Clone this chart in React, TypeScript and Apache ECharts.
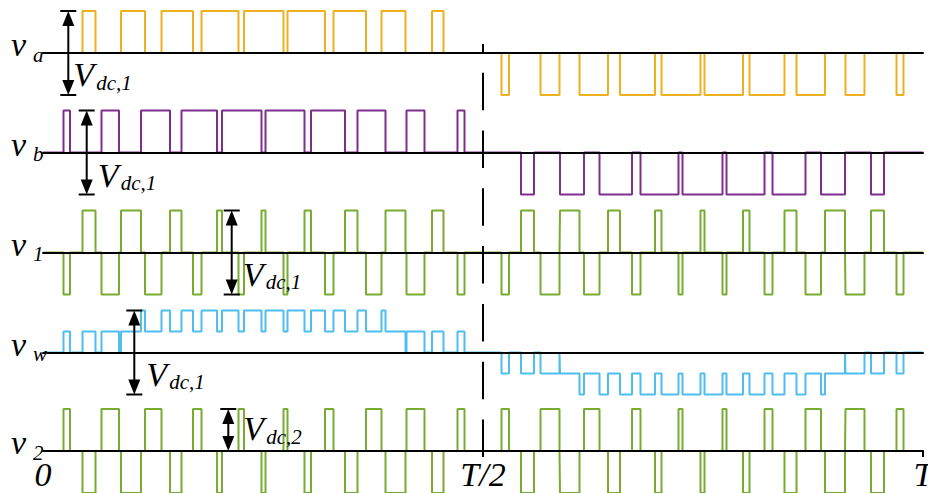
import React, { useEffect, useRef } from "react";
import * as echarts from "echarts";

// ---------- data (time unit: T = 880) ----------
const PERIOD = 880;
const tickValues = [0, 440, 880];
const tickLabels = ["0", "T/2", "T"];

const rowSubscripts = ["a", "b", "1", "w", "2"];
const rowColors = ["#EDB120", "#7E2F8E", "#77AC30", "#4DBEEE", "#77AC30"];

// pulses: [start, end, level]
const vaPulses = [
  [39.5, 52.5, 1], [78, 102, 1], [118.5, 150, 1], [158.5, 195.5, 1], [201, 240.5, 1],
  [244.5, 282, 1], [290.5, 323, 1], [338.5, 362.5, 1], [389, 400.5, 1],
  [458.5, 466, -1], [497.5, 516.5, -1], [536.5, 565, -1], [577, 612, -1], [618.5, 657.5, -1],
  [661.5, 700, -1], [706.5, 741.5, -1], [753.5, 782, -1], [802.5, 821.5, -1], [853.5, 860.5, -1],
];

const vbPulses = [
  [20.5, 27, 1], [58.5, 76, 1], [98, 127, 1], [138.5, 174, 1], [179, 218.5, 1],
  [222.5, 261.5, 1], [268, 302, 1], [314.5, 342.5, 1], [363.5, 381.5, 1], [414.5, 421.5, 1],
  [478, 491, -1], [517, 541, -1], [556.5, 589, -1], [597.5, 635.5, -1], [639.5, 679.5, -1],
  [683.5, 721.5, -1], [729.5, 762.5, -1], [778, 802, -1], [828, 841, -1],
];

const v1Pulses = [
  [20.5, 27, -1], [39.5, 52.5, 1], [58.5, 76, -1], [78, 98, 1], [102, 118.5, -1],
  [127, 138.5, 1], [150, 158.5, -1], [174, 179, 1], [195.5, 201, -1], [218.5, 222.5, 1],
  [240.5, 244.5, -1], [261.5, 268, 1], [282, 290.5, -1], [302, 314.5, 1], [323, 338.5, -1],
  [342.5, 362.5, 1], [363.5, 381.5, -1], [389, 400.5, 1], [414.5, 421.5, -1],
  [458.5, 466, -1], [478, 491, 1], [497.5, 516.5, -1], [517, 536.5, 1], [541, 556.5, -1],
  [565, 577, 1], [589, 597.5, -1], [612, 618.5, 1], [635.5, 639.5, -1], [657.5, 661.5, 1],
  [679.5, 683.5, -1], [700, 706.5, 1], [721.5, 729.5, -1], [741.5, 753.5, 1], [762.5, 778, -1],
  [782, 802, 1], [802.5, 821.5, -1], [828, 841, 1], [853.5, 860.5, -1],
];

// edges: [time, new level]
const vwEdges = [
  [20.5, 0.5], [27, 0], [39.5, 0.5], [52.5, 0], [58.5, 0.5], [76, 0], [78, 0.5], [98, 1],
  [102, 0.5], [118.5, 1], [127, 0.5], [138.5, 1], [150, 0.5], [158.5, 1], [174, 0.5], [179, 1],
  [195.5, 0.5], [201, 1], [218.5, 0.5], [222.5, 1], [240.5, 0.5], [244.5, 1], [261.5, 0.5],
  [268, 1], [282, 0.5], [290.5, 1], [302, 0.5], [314.5, 1], [323, 0.5], [338.5, 1],
  [342.5, 0.5], [362.5, 0], [363.5, 0.5], [381.5, 0], [389, 0.5], [400.5, 0], [414.5, 0.5],
  [421.5, 0],
  [458.5, -0.5], [466, 0], [478, -0.5], [491, 0], [497.5, -0.5], [516.5, 0], [517, -0.5],
  [536.5, -1], [541, -0.5], [556.5, -1], [565, -0.5], [577, -1], [589, -0.5], [597.5, -1],
  [612, -0.5], [618.5, -1], [635.5, -0.5], [639.5, -1], [657.5, -0.5], [661.5, -1],
  [679.5, -0.5], [683.5, -1], [700, -0.5], [706.5, -1], [721.5, -0.5], [729.5, -1],
  [741.5, -0.5], [753.5, -1], [762.5, -0.5], [778, -1], [782, -0.5], [802, 0], [802.5, -0.5],
  [821.5, 0], [828, -0.5], [841, 0], [853.5, -0.5], [860.5, 0],
];

const v2Pulses = [
  [20.5, 27, 1], [39.5, 52.5, -1], [58.5, 76, 1], [78, 98, -1], [102, 118.5, 1],
  [127, 138.5, -1], [150, 158.5, 1], [174, 179, -1], [195.5, 201, 1], [218.5, 222.5, -1],
  [240.5, 244.5, 1], [261.5, 268, -1], [282, 290.5, 1], [302, 314.5, -1], [323, 338.5, 1],
  [342.5, 362.5, -1], [363.5, 381.5, 1], [389, 400.5, -1], [414.5, 421.5, 1],
  [458.5, 466, 1], [478, 491, -1], [497.5, 516.5, 1], [517, 536.5, -1], [541, 556.5, 1],
  [565, 577, -1], [589, 597.5, 1], [612, 618.5, -1], [635.5, 639.5, 1], [657.5, 661.5, -1],
  [679.5, 683.5, 1], [700, 706.5, -1], [721.5, 729.5, 1], [741.5, 753.5, -1], [762.5, 778, 1],
  [782, 802, -1], [802.5, 821.5, 1], [828, 841, -1], [853.5, 860.5, 1],
];

// Vdc annotations: time position of the arrow, span in levels, subscript text
const vdcArrowTimes = [25.3, 43.7, 188.7, 91.3, 185.3];
const vdcArrowSpans = [[1, -1], [1, -1], [1, -1], [1, -1], [1, 0]];
const vdcSubscripts = ["dc,1", "dc,1", "dc,1", "dc,1", "dc,2"];

// ---------- layout ----------
const W = 928;
const H = 493;
const GRID_LEFT = 43;
const GRID_WIDTH = 880;
const ROW_BASES = [53, 152.5, 252.5, 352.5, 451];
const ROW_YMIN = [-1, -1, -1, -1, 0];
const AMP = 42;
const LABEL_OFFSETS = [[7, 33], [13, 34], [13, 33], [14, 33], [17, -11]];
const FONT = "'Liberation Serif', 'Times New Roman', serif";
const MAIN_SIZE = 34;
const SUB_SIZE = 21;

function fromPulses(p: number[][]) {
  const pts: number[][] = [[0, 0]];
  p.forEach(([a, b, l]) => {
    pts.push([a, 0], [a, l], [b, l], [b, 0]);
  });
  pts.push([PERIOD, 0]);
  return pts;
}

function fromEdges(e: number[][]) {
  const pts: number[][] = [[0, 0]];
  let prev = 0;
  e.forEach(([t, l]) => {
    pts.push([t, prev], [t, l]);
    prev = l;
  });
  pts.push([PERIOD, prev]);
  return pts;
}

function txt(x: number, baseline: number, text: string, size: number) {
  return {
    type: "text",
    z: 100,
    x,
    y: baseline - 0.3375 * size,
    style: {
      text,
      fontFamily: FONT,
      fontStyle: "italic",
      fontSize: size,
      lineHeight: Math.round(size * 0.8),
      fill: "#000",
      align: "left",
      verticalAlign: "middle",
    },
  };
}

export default function App() {
  const ref = useRef<HTMLDivElement>(null);

  useEffect(() => {
    const el = ref.current;
    if (!el) return;
    const chart = echarts.init(el, null, { renderer: "svg", width: W, height: H });

    const rowsData = [
      fromPulses(vaPulses),
      fromPulses(vbPulses),
      fromPulses(v1Pulses),
      fromEdges(vwEdges),
      fromPulses(v2Pulses),
    ];

    const grid = ROW_BASES.map((b, i) => ({
      left: GRID_LEFT,
      width: GRID_WIDTH,
      top: b - AMP,
      height: AMP * (1 - ROW_YMIN[i]),
      containLabel: false,
      outerBoundsMode: "none",
    }));

    const last = ROW_BASES.length - 1;
    const xAxis = ROW_BASES.map((_, i) => ({
      type: "value",
      gridIndex: i,
      position: "bottom",
      min: 0,
      max: PERIOD,
      interval: PERIOD / 2,
      z: 5,
      axisLine: {
        show: true,
        onZero: i !== last,
        lineStyle: { color: "#000", width: 2 },
      },
      axisTick:
        i === last
          ? { show: true, length: 6, customValues: [440, 880], lineStyle: { color: "#000", width: 2 } }
          : { show: false },
      axisLabel:
        i === last
          ? {
              show: true,
              margin: 11.5,
              lineHeight: 24,
              showMinLabel: true,
              showMaxLabel: true,
              hideOverlap: false,
              fontFamily: FONT,
              fontStyle: "italic",
              fontSize: MAIN_SIZE,
              color: "#000",
              formatter: (v: number) => {
                const k = tickValues.indexOf(v);
                return k >= 0 ? tickLabels[k] : "";
              },
            }
          : { show: false },
      splitLine: { show: false },
    }));

    const yAxis = ROW_BASES.map((_, i) => ({
      type: "value",
      gridIndex: i,
      min: ROW_YMIN[i],
      max: 1,
      show: false,
      splitLine: { show: false },
    }));

    const series = rowsData.map((d, i) => ({
      type: "line",
      xAxisIndex: i,
      yAxisIndex: i,
      data: d,
      symbol: "none",
      showSymbol: false,
      clip: false,
      z: 2,
      lineStyle: { color: rowColors[i], width: 2 },
    }));

    chart.setOption({
      animation: false,
      grid,
      xAxis,
      yAxis,
      series,
    });

    // annotations positioned through the chart's own scales
    const graphics: any[] = [];
    const px = (i: number, t: number, v: number) =>
      chart.convertToPixel({ gridIndex: i } as any, [t, v]) as number[];

    // dashed line at T/2
    const pHalf = px(last, PERIOD / 2, 0);
    graphics.push({
      type: "line",
      z: 90,
      shape: { x1: pHalf[0], y1: pHalf[1] + 6, x2: pHalf[0], y2: ROW_BASES[0] - 9 },
      style: { stroke: "#000", lineWidth: 2, lineDash: [37.5, 20.3] },
    });

    ROW_BASES.forEach((b, i) => {
      // row label v_x
      graphics.push(txt(11, b + 3, "v", MAIN_SIZE));
      graphics.push(txt(33, b + 9, rowSubscripts[i], SUB_SIZE));

      // Vdc arrow
      const [top, bot] = vdcArrowSpans[i];
      const p1 = px(i, vdcArrowTimes[i], top);
      const p2 = px(i, vdcArrowTimes[i], bot);
      const x = p1[0];
      const y1 = p1[1];
      const y2 = p2[1];
      const hw = 6;
      const hl = 15;
      graphics.push({
        type: "line",
        z: 100,
        shape: { x1: x, y1: y1 + 4, x2: x, y2: y2 - 4 },
        style: { stroke: "#000", lineWidth: 2 },
      });
      graphics.push({
        type: "polygon",
        z: 100,
        shape: { points: [[x, y1], [x - hw, y1 + hl], [x + hw, y1 + hl]] },
        style: { fill: "#000" },
      });
      graphics.push({
        type: "polygon",
        z: 100,
        shape: { points: [[x, y2], [x - hw, y2 - hl], [x + hw, y2 - hl]] },
        style: { fill: "#000" },
      });
      graphics.push({
        type: "line",
        z: 100,
        shape: { x1: x - 8, y1, x2: x + 8, y2: y1 },
        style: { stroke: "#000", lineWidth: 2 },
      });
      graphics.push({
        type: "line",
        z: 100,
        shape: { x1: x - 8, y1: y2, x2: x + 8, y2 },
        style: { stroke: "#000", lineWidth: 2 },
      });

      // Vdc label
      const lx = x + LABEL_OFFSETS[i][0] - 2;
      const lb = b + LABEL_OFFSETS[i][1];
      graphics.push(txt(lx, lb, "V", MAIN_SIZE));
      graphics.push(txt(lx + 23, lb + 4, vdcSubscripts[i], SUB_SIZE));
    });

    chart.setOption({ graphic: graphics });

    return () => {
      chart.dispose();
    };
  }, []);

  return (
    <div
      ref={ref}
      style={{ position: "absolute", left: 0, top: 0, width: W, height: H, background: "#fff" }}
    />
  );
}
